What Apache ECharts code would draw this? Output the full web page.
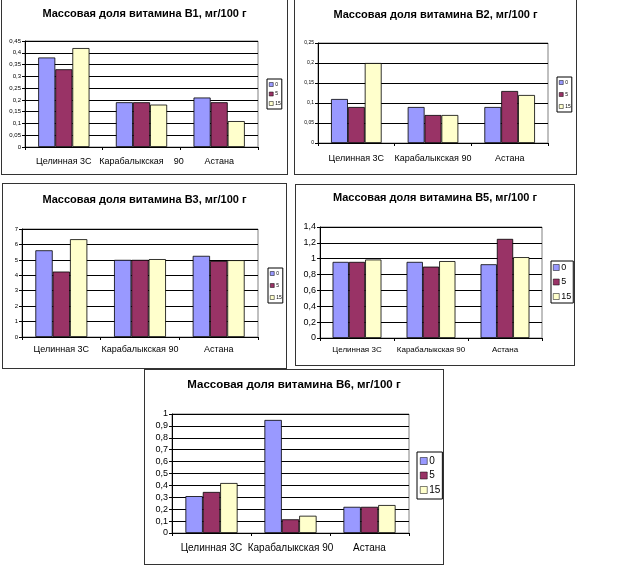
<!DOCTYPE html>
<html lang="ru">
<head>
	<meta charset="utf-8">
	<title>Массовая доля витаминов</title>
	<style>
		html, body { margin: 0; height: 100%; background: #fff; overflow: hidden; }
		.panel { position: absolute; box-sizing: border-box; border: 1px solid #333; background: #fff; }
	</style>
</head>
<body>
<div id="p1" class="panel" style="left:1px; top:-3px; width:287px; height:178px"></div>
<div id="p2" class="panel" style="left:294px; top:-3px; width:283px; height:178px"></div>
<div id="p3" class="panel" style="left:2px; top:183px; width:285px; height:186px"></div>
<div id="p4" class="panel" style="left:295px; top:184px; width:280px; height:182px"></div>
<div id="p5" class="panel" style="left:144px; top:369px; width:300px; height:196px"></div>

<script src="https://cdn.jsdelivr.net/npm/echarts@6.0.0/dist/echarts.min.js"></script>
<script type="text/javascript">
	// данные
	var categories = ['Целинная 3С', 'Карабалыкская 90', 'Астана'];
	var seriesNames = ['0', '5', '15'];

	var b1_0 = [0.38, 0.19, 0.21];
	var b1_5 = [0.33, 0.19, 0.19];
	var b1_15 = [0.42, 0.18, 0.11];

	var b2_0 = [0.11, 0.09, 0.09];
	var b2_5 = [0.09, 0.07, 0.13];
	var b2_15 = [0.20, 0.07, 0.12];

	var b3_0 = [5.62, 5.0, 5.26];
	var b3_5 = [4.24, 5.0, 4.93];
	var b3_15 = [6.34, 5.05, 4.98];

	var b5_0 = [0.96, 0.96, 0.93];
	var b5_5 = [0.96, 0.90, 1.25];
	var b5_15 = [0.99, 0.97, 1.02];

	var b6_0 = [0.31, 0.95, 0.22];
	var b6_5 = [0.345, 0.115, 0.22];
	var b6_15 = [0.42, 0.145, 0.235];

	var colors = ['#9999FF', '#993366', '#FFFFCC'];
	var font = 'Liberation Sans, Arial, sans-serif';

	function comma(v) {
		return String(+v.toFixed(3)).replace('.', ',');
	}

	function makeChart(id, cfg) {
		var chart = echarts.init(document.getElementById(id), null, { renderer: 'canvas' });
		var lg = cfg.legend;
		var series = cfg.values.map(function (vals, i) {
			return {
				name: seriesNames[i],
				type: 'bar',
				data: vals,
				barGap: '0%',
				barCategoryGap: '34%',
				itemStyle: { color: colors[i], borderColor: '#000', borderWidth: 0.8 },
				emphasis: { disabled: true }
			};
		});
		chart.setOption({
			animation: false,
			textStyle: { fontFamily: font },
			title: {
				text: cfg.title,
				left: 'center',
				top: cfg.titleTop,
				padding: 0,
				textStyle: { fontSize: cfg.titleFont, fontWeight: 'bold', color: '#000', fontFamily: font }
			},
			legend: {
				orient: 'vertical',
				left: lg.left,
				top: lg.top,
				padding: lg.padding,
				itemGap: lg.gap,
				itemWidth: lg.icon,
				itemHeight: lg.icon,
				icon: 'rect',
				borderColor: '#000',
				borderWidth: 1,
				selectedMode: false,
				itemStyle: { borderColor: '#000', borderWidth: 0.5 },
				textStyle: {
					fontSize: lg.font, lineHeight: lg.font, color: '#000',
					padding: [0, 0, 0, lg.shift]
				},
				data: seriesNames
			},
			grid: {
				left: cfg.grid[0], top: cfg.grid[1], width: cfg.grid[2], height: cfg.grid[3],
				show: true, borderColor: '#808080', borderWidth: 1, containLabel: false
			},
			xAxis: {
				type: 'category',
				data: categories,
				axisLine: { lineStyle: { color: '#000', width: 1 } },
				axisTick: { show: true, length: 3, lineStyle: { color: '#000' } },
				axisLabel: {
					color: '#000', fontSize: cfg.catFont, margin: cfg.catMargin, interval: 0,
					formatter: cfg.catFormatter || null
				}
			},
			yAxis: {
				type: 'value',
				min: 0,
				max: cfg.max,
				interval: cfg.step,
				axisLine: { show: true, lineStyle: { color: '#000', width: 1 } },
				axisTick: { show: true, length: 3, lineStyle: { color: '#000' } },
				axisLabel: { color: '#000', fontSize: cfg.tickFont, margin: 4, formatter: comma },
				splitLine: { lineStyle: { color: '#000', width: 1 } }
			},
			series: series
		});
		return chart;
	}

	makeChart('p1', {
		title: 'Массовая доля витамина В1, мг/100 г', titleTop: 10.5, titleFont: 11,
		values: [b1_0, b1_5, b1_15],
		grid: [23, 43, 233, 106], max: 0.45, step: 0.05,
		tickFont: 6, catFont: 9, catMargin: 10,
		catFormatter: function (v) { return v.replace(' 90', '    90'); },
		legend: { left: 265, top: 81, padding: [3, 1, 3, 2], gap: 4.5, icon: 4, font: 5, shift: -3 }
	});
	makeChart('p2', {
		title: 'Массовая доля витамина В2, мг/100 г', titleTop: 11, titleFont: 11,
		values: [b2_0, b2_5, b2_15],
		grid: [23, 45, 230, 100], max: 0.25, step: 0.05,
		tickFont: 5, catFont: 9, catMargin: 11,
		legend: { left: 262, top: 79, padding: [3, 1, 3, 2], gap: 7, icon: 4, font: 5, shift: -3 }
	});
	makeChart('p3', {
		title: 'Массовая доля витамина В3, мг/100 г', titleTop: 10, titleFont: 11,
		values: [b3_0, b3_5, b3_15],
		grid: [19, 45, 236, 108], max: 7, step: 1,
		tickFont: 6, catFont: 9, catMargin: 8,
		legend: { left: 265, top: 84, padding: [3, 1, 3, 2], gap: 7, icon: 4, font: 5, shift: -3 }
	});
	makeChart('p4', {
		title: 'Массовая доля витамина В5, мг/100 г', titleTop: 7, titleFont: 11,
		values: [b5_0, b5_5, b5_15],
		grid: [24, 42, 222, 111], max: 1.4, step: 0.2,
		tickFont: 9, catFont: 8, catMargin: 8,
		legend: { left: 255, top: 76, padding: [2, 2, 2, 2], gap: 5.5, icon: 6, font: 9, shift: -3 }
	});
	makeChart('p5', {
		title: 'Массовая доля витамина В6, мг/100 г', titleTop: 9, titleFont: 11.5,
		values: [b6_0, b6_5, b6_15],
		grid: [27, 44, 237, 119], max: 1, step: 0.1,
		tickFont: 9, catFont: 10, catMargin: 10,
		legend: { left: 272, top: 82, padding: [4, 2, 4, 3], gap: 4.5, icon: 7, font: 10, shift: -3 }
	});
</script>
</body>
</html>
